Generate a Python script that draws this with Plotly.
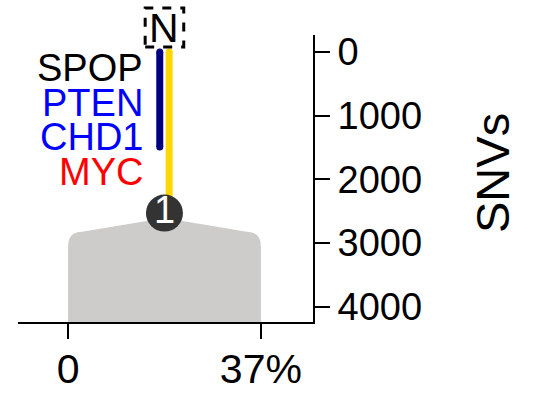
import plotly.graph_objects as go

# ---- data ----
genes = ["SPOP", "PTEN", "CHD1", "MYC"]
gene_colors = ["#000000", "#0000ff", "#0000ff", "#ff0000"]
clone_pct = 37            # clone 1 prevalence (%)
clone_label = "1"
trunk_snvs = 2530         # SNVs to node 1 (gold branch)
driver_snvs = 1490        # navy branch length
clone_top = 2606          # apex of clone body
clone_shoulder = 2821     # top of shoulders
clone_side = 3056         # where the vertical sides begin
y_ticks = [0, 1000, 2000, 3000, 4000]
x_ticks = [0, 37]
x_ticktext = ["0", "37%"]

FONT = "Liberation Sans, Arial, sans-serif"
W, H = 533, 393
ML, MR, MT, MB = 18, 220, 35, 71
x_range = [-9.6, 47]
y_range = [4240, -267]
plot_h = H - MT - MB
plot_w = W - ML - MR


def py(pix):
    """pixel row -> paper y"""
    return (H - MB - pix) / plot_h


def px(pix):
    """pixel column -> paper x"""
    return (pix - ML) / plot_w


mid = clone_pct / 2.0
off = 0.9
corner = 2.7

fig = go.Figure()

# clone body
path = (f"M 0,{y_range[0]} L 0,{clone_side} Q 0,{clone_shoulder} {corner},{clone_shoulder} "
        f"L {mid},{clone_top} L {clone_pct - corner},{clone_shoulder} "
        f"Q {clone_pct},{clone_shoulder} {clone_pct},{clone_side} L {clone_pct},{y_range[0]} Z")
fig.add_shape(type="path", path=path, xref="x", yref="y",
              fillcolor="#cdcccb", line=dict(width=0), layer="below")

# branches
fig.add_trace(go.Scatter(x=[mid + off, mid + off], y=[0, trunk_snvs], mode="lines+markers",
                         line=dict(color="#ffd700", width=7),
                         marker=dict(color="#ffd700", size=7),
                         hoverinfo="skip", showlegend=False))
fig.add_trace(go.Scatter(x=[mid - off, mid - off], y=[0, driver_snvs], mode="lines+markers",
                         line=dict(color="#000080", width=7),
                         marker=dict(color="#000080", size=7),
                         hoverinfo="skip", showlegend=False))

# node
fig.add_trace(go.Scatter(x=[mid], y=[trunk_snvs], mode="markers+text",
                         marker=dict(color="#333333", size=37, line=dict(width=0)),
                         text=[clone_label], textposition="middle center",
                         textfont=dict(color="white", size=38, family=FONT),
                         cliponaxis=False, hoverinfo="skip", showlegend=False))

# N box
fig.add_shape(type="rect", xref="x", yref="paper",
              x0=mid - 3.7, x1=mid + 3.7, y0=py(47), y1=py(8),
              line=dict(color="black", width=3, dash="dash"))
fig.add_annotation(x=mid, y=py(28), xref="x", yref="paper", text="N",
                   showarrow=False, xanchor="center", yanchor="middle",
                   font=dict(size=41, color="black", family=FONT))

# gene labels
for i, (g, c) in enumerate(zip(genes, gene_colors)):
    fig.add_annotation(x=px(145), y=py(68 + 34.7 * i), xref="paper", yref="paper",
                       text=g, showarrow=False, xanchor="right", yanchor="middle",
                       font=dict(size=38, color=c, family=FONT))

# y title
fig.add_annotation(x=px(492), y=py(173), xref="paper", yref="paper",
                   text="SNVs", textangle=-90, showarrow=False,
                   xanchor="center", yanchor="middle",
                   font=dict(size=47, color="black", family=FONT))

fig.update_layout(
    width=W, height=H,
    margin=dict(l=ML, r=MR, t=MT, b=MB, pad=0, autoexpand=False),
    paper_bgcolor="white", plot_bgcolor="white",
    font=dict(family=FONT, color="black"),
    xaxis=dict(range=x_range, tickvals=x_ticks, ticktext=x_ticktext, automargin=False,
               showgrid=False, zeroline=False, showline=True, linecolor="black",
               linewidth=2, ticks="outside", ticklen=15, tickwidth=2, tickcolor="black",
               ticklabelstandoff=-5,
               tickfont=dict(size=41, family=FONT, color="black")),
    yaxis=dict(range=y_range, tickvals=y_ticks, side="right", automargin=False,
               showgrid=False, zeroline=False, showline=True, linecolor="black",
               linewidth=2, ticks="outside", ticklen=15, tickwidth=2, tickcolor="black",
               tickfont=dict(size=38, family=FONT, color="black")),
)

fig.write_html("out.html", config={"displayModeBar": False},
               post_script="document.body.style.margin='0';")
